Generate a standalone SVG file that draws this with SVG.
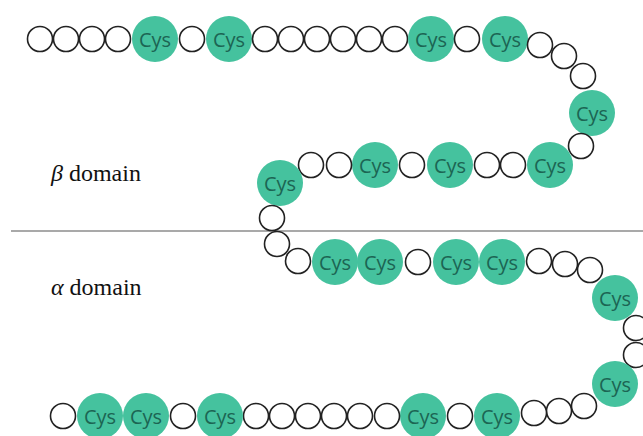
<svg xmlns="http://www.w3.org/2000/svg" width="643" height="436" viewBox="0 0 643 436">
<style>
.s circle{fill:#fff;stroke:#222;stroke-width:1.6}
.c circle{fill:#45C29E;stroke:none}
.c text{font-family:"Open Sans","Liberation Sans",sans-serif;font-size:20px;fill:#1C6553;text-anchor:middle;dominant-baseline:central}
.lbl{font-family:"Liberation Serif",serif;font-size:24px;fill:#111}
</style>
<rect width="643" height="436" fill="#fff"/>
<g id="divider"><line x1="11" y1="231" x2="643" y2="231" stroke="#555" stroke-width="1.2"/></g>
<g id="labels">
<text class="lbl" x="51" y="181"><tspan font-style="italic">β</tspan> domain</text>
<text class="lbl" x="51" y="295"><tspan font-style="italic">α</tspan> domain</text>
</g>
<g id="connectors"></g>
<g id="chain">
<g id="n1" class="s"><circle cx="40" cy="39" r="12.5"/></g>
<g id="n2" class="s"><circle cx="66" cy="39" r="12.5"/></g>
<g id="n3" class="s"><circle cx="92" cy="39" r="12.5"/></g>
<g id="n4" class="s"><circle cx="118" cy="39" r="12.5"/></g>
<g id="n5" class="c"><circle cx="155" cy="39" r="23"/><text x="155" y="39">Cys</text></g>
<g id="n6" class="s"><circle cx="192" cy="39" r="12.5"/></g>
<g id="n7" class="c"><circle cx="229" cy="39" r="23"/><text x="229" y="39">Cys</text></g>
<g id="n8" class="s"><circle cx="265" cy="39" r="12.5"/></g>
<g id="n9" class="s"><circle cx="291" cy="39" r="12.5"/></g>
<g id="n10" class="s"><circle cx="317" cy="39" r="12.5"/></g>
<g id="n11" class="s"><circle cx="343" cy="39" r="12.5"/></g>
<g id="n12" class="s"><circle cx="369" cy="39" r="12.5"/></g>
<g id="n13" class="s"><circle cx="395" cy="39" r="12.5"/></g>
<g id="n14" class="c"><circle cx="431" cy="39" r="23"/><text x="431" y="39">Cys</text></g>
<g id="n15" class="s"><circle cx="467" cy="39" r="12.5"/></g>
<g id="n16" class="c"><circle cx="505" cy="39" r="23"/><text x="505" y="39">Cys</text></g>
<g id="n17" class="s"><circle cx="540" cy="45" r="12.5"/></g>
<g id="n18" class="s"><circle cx="564" cy="56" r="12.5"/></g>
<g id="n19" class="s"><circle cx="583" cy="76" r="12.5"/></g>
<g id="n20" class="c"><circle cx="592" cy="113" r="23"/><text x="592" y="113">Cys</text></g>
<g id="n21" class="s"><circle cx="581" cy="146" r="12.5"/></g>
<g id="n22" class="c"><circle cx="550" cy="165" r="23"/><text x="550" y="165">Cys</text></g>
<g id="n23" class="s"><circle cx="513" cy="165" r="12.5"/></g>
<g id="n24" class="s"><circle cx="487" cy="165" r="12.5"/></g>
<g id="n25" class="c"><circle cx="450" cy="165" r="23"/><text x="450" y="165">Cys</text></g>
<g id="n26" class="s"><circle cx="412" cy="165" r="12.5"/></g>
<g id="n27" class="c"><circle cx="375" cy="165" r="23"/><text x="375" y="165">Cys</text></g>
<g id="n28" class="s"><circle cx="339" cy="165" r="12.5"/></g>
<g id="n29" class="s"><circle cx="311" cy="165" r="12.5"/></g>
<g id="n30" class="c"><circle cx="280" cy="183" r="23"/><text x="280" y="183">Cys</text></g>
<g id="n31" class="s"><circle cx="272" cy="218" r="12.5"/></g>
<g id="n32" class="s"><circle cx="277" cy="244" r="12.5"/></g>
<g id="n33" class="s"><circle cx="298" cy="261" r="12.5"/></g>
<g id="n34" class="c"><circle cx="335" cy="262" r="23"/><text x="335" y="262">Cys</text></g>
<g id="n35" class="c"><circle cx="380" cy="262" r="23"/><text x="380" y="262">Cys</text></g>
<g id="n36" class="s"><circle cx="418" cy="262" r="12.5"/></g>
<g id="n37" class="c"><circle cx="456" cy="262" r="23"/><text x="456" y="262">Cys</text></g>
<g id="n38" class="c"><circle cx="502" cy="262" r="23"/><text x="502" y="262">Cys</text></g>
<g id="n39" class="s"><circle cx="539" cy="261" r="12.5"/></g>
<g id="n40" class="s"><circle cx="565" cy="264" r="12.5"/></g>
<g id="n41" class="s"><circle cx="590" cy="270" r="12.5"/></g>
<g id="n42" class="c"><circle cx="615" cy="298" r="23"/><text x="615" y="298">Cys</text></g>
<g id="n43" class="s"><circle cx="636" cy="328" r="12.5"/></g>
<g id="n44" class="s"><circle cx="636" cy="355" r="12.5"/></g>
<g id="n45" class="c"><circle cx="615" cy="384" r="23"/><text x="615" y="384">Cys</text></g>
<g id="n46" class="s"><circle cx="584" cy="406" r="12.5"/></g>
<g id="n47" class="s"><circle cx="559" cy="411" r="12.5"/></g>
<g id="n48" class="s"><circle cx="534" cy="413" r="12.5"/></g>
<g id="n49" class="c"><circle cx="497" cy="416" r="23"/><text x="497" y="416">Cys</text></g>
<g id="n50" class="s"><circle cx="460" cy="416" r="12.5"/></g>
<g id="n51" class="c"><circle cx="423" cy="416" r="23"/><text x="423" y="416">Cys</text></g>
<g id="n52" class="s"><circle cx="387" cy="416" r="12.5"/></g>
<g id="n53" class="s"><circle cx="360" cy="416" r="12.5"/></g>
<g id="n54" class="s"><circle cx="334" cy="416" r="12.5"/></g>
<g id="n55" class="s"><circle cx="308" cy="416" r="12.5"/></g>
<g id="n56" class="s"><circle cx="282" cy="416" r="12.5"/></g>
<g id="n57" class="s"><circle cx="256" cy="416" r="12.5"/></g>
<g id="n58" class="c"><circle cx="220" cy="416" r="23"/><text x="220" y="416">Cys</text></g>
<g id="n59" class="s"><circle cx="183" cy="416" r="12.5"/></g>
<g id="n60" class="c"><circle cx="146" cy="416" r="23"/><text x="146" y="416">Cys</text></g>
<g id="n61" class="c"><circle cx="100" cy="416" r="23"/><text x="100" y="416">Cys</text></g>
<g id="n62" class="s"><circle cx="63" cy="416" r="12.5"/></g>
</g>
</svg>
